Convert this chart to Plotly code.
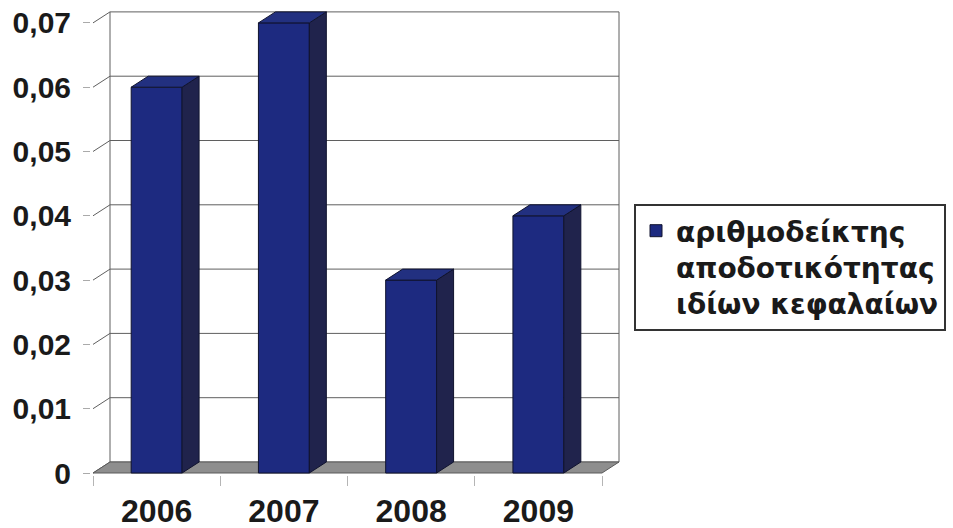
import plotly.graph_objects as go

# ---- data ----
years = ["2006", "2007", "2008", "2009"]
roe = [0.06, 0.07, 0.03, 0.04]
series_name = "αριθμοδείκτης<br>αποδοτικότητας<br>ιδίων κεφαλαίων"
y_ticks = [0, 0.01, 0.02, 0.03, 0.04, 0.05, 0.06, 0.07]

# ---- page geometry (pixels) ----
W, H = 953, 528
PX_LEFT = 93          # front-left corner of the floor
PX_ZERO = 473         # front edge of the floor (value 0)
PX_PER_CAT = 127.25   # width of one category slot
PX_PER_UNIT_Y = 6430.0
DEPTH_PX_X = 17       # perspective depth offset
DEPTH_PX_Y = 11
PAD_PX = 2
BAR_WIDTH = 0.40

dx = DEPTH_PX_X / PX_PER_CAT
dy = DEPTH_PX_Y / PX_PER_UNIT_Y
n = len(years)
y_top = max(y_ticks)
x_front_lo, x_front_hi = -0.5, n - 0.5

x_lo = x_front_lo - PAD_PX / PX_PER_CAT
x_hi = x_front_hi + dx + PAD_PX / PX_PER_CAT
y_lo = -PAD_PX / PX_PER_UNIT_Y
y_hi = y_top + dy + PAD_PX / PX_PER_UNIT_Y

px_x0 = PX_LEFT - PAD_PX
px_x1 = px_x0 + (x_hi - x_lo) * PX_PER_CAT
px_y0 = PX_ZERO + PAD_PX
px_y1 = px_y0 - (y_hi - y_lo) * PX_PER_UNIT_Y
dom_x = [px_x0 / W, px_x1 / W]
dom_y = [1 - px_y0 / H, 1 - px_y1 / H]

FONT = "Liberation Sans, Arial, sans-serif"
FRONT = "#1d2a80"
SIDE = "#20234c"
TOP = "#223080"
EDGE = "#10132e"
GRID = "#5f5f5f"

fig = go.Figure()

# front faces of the columns
fig.add_trace(go.Bar(
    x=list(range(n)), y=roe, width=BAR_WIDTH, name=series_name,
    marker=dict(color=FRONT, line=dict(color=EDGE, width=1)),
    hoverinfo="x+y",
))

# side and top faces, offset into depth
hw = BAR_WIDTH / 2
side_x, side_y, top_x, top_y = [], [], [], []
for i, v in enumerate(roe):
    side_x += [i + hw, i + hw + dx, i + hw + dx, i + hw, i + hw, None]
    side_y += [0, dy, v + dy, v, 0, None]
    top_x += [i - hw, i + hw, i + hw + dx, i - hw + dx, i - hw, None]
    top_y += [v, v, v + dy, v + dy, v, None]

fig.add_trace(go.Scatter(
    x=side_x, y=side_y, mode="lines", fill="toself", fillcolor=SIDE,
    line=dict(color=EDGE, width=1), showlegend=False, hoverinfo="skip",
))
fig.add_trace(go.Scatter(
    x=top_x, y=top_y, mode="lines", fill="toself", fillcolor=TOP,
    line=dict(color=EDGE, width=1), showlegend=False, hoverinfo="skip",
))

# back wall, gridlines, left-side connectors and floor
shapes = []
for v in y_ticks:
    shapes.append(dict(type="line", xref="x", yref="y", layer="below",
                       x0=x_front_lo + dx, x1=x_front_hi + dx, y0=v + dy, y1=v + dy,
                       line=dict(color=GRID, width=1)))
    shapes.append(dict(type="line", xref="x", yref="y", layer="below",
                       x0=x_front_lo, x1=x_front_lo + dx, y0=v, y1=v + dy,
                       line=dict(color=GRID, width=1)))
for xe in (x_front_lo + dx, x_front_hi + dx):
    shapes.append(dict(type="line", xref="x", yref="y", layer="below",
                       x0=xe, x1=xe, y0=dy, y1=y_top + dy,
                       line=dict(color=GRID, width=1)))
floor_path = (f"M{x_front_lo},0 L{x_front_hi},0 L{x_front_hi + dx},{dy} "
              f"L{x_front_lo + dx},{dy} Z")
shapes.append(dict(type="path", xref="x", yref="y", layer="below", path=floor_path,
                   fillcolor="#8e8e8e", line=dict(color="#5a5a5a", width=1)))


def fmt(v):
    return "0" if v == 0 else f"{v:.2f}".replace(".", ",")


fig.update_layout(
    width=W, height=H, margin=dict(l=0, r=0, t=0, b=0),
    paper_bgcolor="white", plot_bgcolor="white",
    shapes=shapes,
    showlegend=True,
    xaxis=dict(
        domain=dom_x, range=[x_lo, x_hi], tickmode="array", automargin=False,
        tickvals=list(range(n)), ticktext=years, ticks="",
        showgrid=False, zeroline=False, showline=False,
        tickfont=dict(family=FONT, size=32, color="#1a1a1a", weight="bold"),
        ticklabelstandoff=14,
        minor=dict(tickmode="array",
                   tickvals=[i - 0.5 for i in range(n + 1)],
                   ticks="outside", ticklen=10, tickcolor="#b5b5b5", showgrid=False),
    ),
    yaxis=dict(
        domain=dom_y, range=[y_lo, y_hi], tickmode="array", automargin=False,
        tickvals=y_ticks, ticktext=[fmt(v) for v in y_ticks],
        ticks="outside", ticklen=7, tickcolor="#aaaaaa",
        showgrid=False, zeroline=False, showline=False,
        tickfont=dict(family=FONT, size=30, color="#1a1a1a", weight="bold"),
        ticklabelstandoff=6,
    ),
    legend=dict(
        x=634 / W, y=1 - 204 / H, xanchor="left", yanchor="top",
        bgcolor="white", bordercolor="#333333", borderwidth=2,
        font=dict(family="DejaVu Sans, Verdana, sans-serif", size=28,
                  color="#1a1a1a", weight="bold"),
        valign="top",
    ),
)

fig.write_html("out.html")
